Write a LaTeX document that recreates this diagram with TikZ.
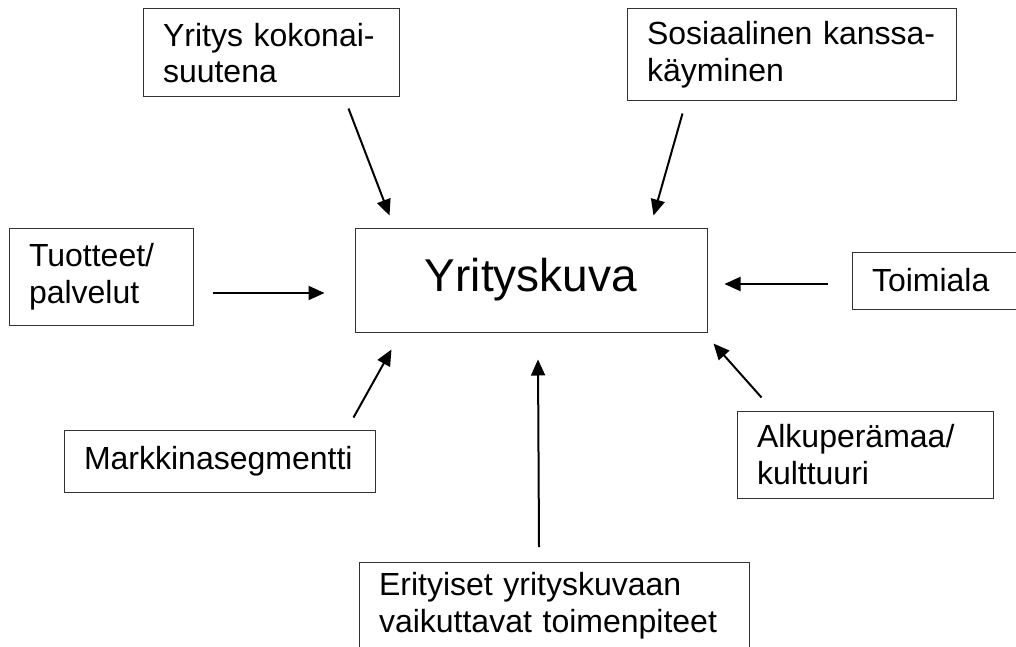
\documentclass[tikz,border=0pt]{standalone}
\usepackage{fontspec}
\setmainfont{Liberation Sans}
\usepackage{tikz}
\usetikzlibrary{arrows.meta}
\tikzset{
  box/.style={draw=black!80,line width=.5pt,fill=white,inner xsep=10pt,inner ysep=5pt,
    align=left,font=\fontsize{16}{18.4}\selectfont},
  arrow/.style={-{Triangle[length=8pt,width=7pt]},line width=1pt,draw=black}
}
\begin{document}
\begin{tikzpicture}[x=0.5pt,y=-0.5pt]
\clip (0,0) rectangle (1016,647);
\node[box,minimum width=128pt,minimum height=44pt,text width=108pt] (kokon) at (271,53) {Yritys kokonai-\\suutena};
\node[box,minimum width=164.5pt,minimum height=46pt,text width=144.5pt] (sosial) at (791.5,55) {Sosiaalinen kanssa-\\käyminen};
\node[box,minimum width=92pt,minimum height=48.5pt,text width=72pt] (tuott) at (101,276.5) {Tuotteet/\\palvelut};
\node[box,minimum width=176pt,minimum height=52pt,align=center,font=\fontsize{23}{26}\selectfont] (yrkuva) at (531,280) {Yrityskuva};
\node[box,minimum width=90pt,minimum height=28.5pt,text width=70pt] (toimi) at (942,280.5) {Toimiala};
\node[box,minimum width=155.5pt,minimum height=31pt,text width=135.5pt] (markk) at (219.5,461) {Markkinasegmentti};
\node[box,minimum width=128pt,minimum height=43.5pt,text width=108pt] (alkup) at (865,454.5) {Alkuperämaa/\\kulttuuri};
\node[box,minimum width=195pt,text width=175pt,anchor=north] (erit) at (554,562) {Erityiset yrityskuvaan\\vaikuttavat toimenpiteet\\[12pt]};
% nuolet kohti keskustaa
\draw[arrow] ([xshift=-25.5pt,yshift=-5.5pt]kokon.south east) -- ([xshift=17.5pt,yshift=6pt]yrkuva.north west);
\draw[arrow] ([xshift=28pt,yshift=-6pt]sosial.south west) -- ([xshift=-27pt,yshift=6pt]yrkuva.north east);
\draw[arrow] ([xshift=9.5pt,yshift=-8.25pt]tuott.east) -- ([xshift=-15pt,yshift=-6.5pt]yrkuva.west);
\draw[arrow] ([xshift=-12pt,yshift=-1.75pt]toimi.west) -- ([xshift=8.5pt,yshift=-2pt]yrkuva.east);
\draw[arrow] ([xshift=-11pt,yshift=6pt]markk.north east) -- ([xshift=18.5pt,yshift=-8.5pt]yrkuva.south west);
\draw[arrow] ([xshift=12.5pt,yshift=6.5pt]alkup.north west) -- ([xshift=3pt,yshift=-5.5pt]yrkuva.south east);
\draw[arrow] ([xshift=-7.5pt,yshift=7.5pt]erit.north) -- ([xshift=3.5pt,yshift=-13.5pt]yrkuva.south);
\end{tikzpicture}
\end{document}
